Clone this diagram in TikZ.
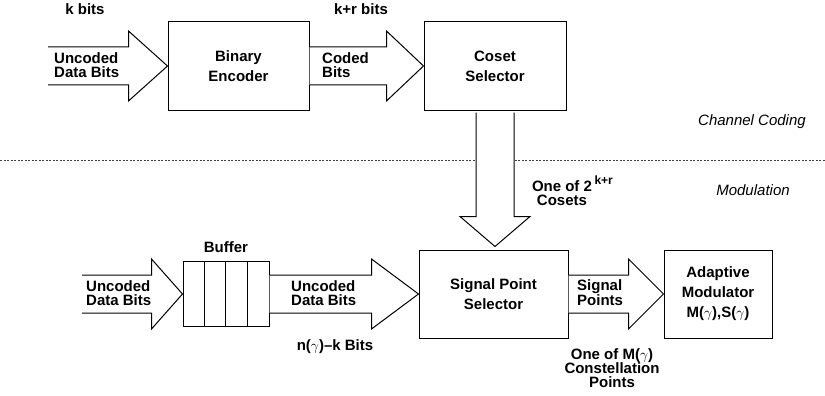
\documentclass[tikz,border=0pt]{standalone}
\usepackage{fontspec}
\setmainfont{Liberation Sans}
\usetikzlibrary{positioning,calc}
\tikzset{
  block/.style={draw,line width=1pt,align=center,inner sep=0pt,
    font=\bfseries\fontsize{15}{20}\selectfont},
  fat/.style={draw,line width=1pt,fill=white},
  arrlabel/.style={align=left,anchor=west,inner sep=0pt,
    font=\bfseries\fontsize{15}{14}\selectfont},
  note/.style={align=center,inner sep=0pt,
    font=\bfseries\fontsize{15}{14}\selectfont},
  layer/.style={inner sep=0pt,font=\itshape\fontsize{15}{15}\selectfont},
  divider/.style={draw=black!75,line width=1pt,dash pattern=on 2pt off 1.5pt}
}
% wide block arrow: from, to, head length
\newcommand{\hfat}[3]{%
  \draw[fat] ($(#1)+(0,-19)$) -- ($(#2)+(-#3,-19)$) -- ($(#2)+(-#3,-35)$) -- (#2)
    -- ($(#2)+(-#3,35)$) -- ($(#2)+(-#3,19)$) -- ($(#1)+(0,19)$);
}
\newcommand{\vfat}[3]{%
  \draw[fat] ($(#1)+(-19,0)$) -- ($(#2)+(-19,-#3)$) -- ($(#2)+(-35,-#3)$) -- (#2)
    -- ($(#2)+(35,-#3)$) -- ($(#2)+(19,-#3)$) -- ($(#1)+(19,0)$);
}

\begin{document}
\begin{tikzpicture}[x=1pt,y=-1pt]
  \useasboundingbox (0,0) rectangle (825,396);
  % channel coding
  \node[block,minimum width=141,minimum height=88] (enc) at (238.5,66) {Binary\\Encoder};
  \node[block,minimum width=142,minimum height=88] (coset) at (495,66) {Coset\\Selector};
  \coordinate (in1) at (48,66);
  \hfat{in1}{enc.west}{39}
  \hfat{enc.east}{coset.west}{37}
  \node[note] (kbits) at (85,9) {k bits};
  \node[note] (krbits) at (361,9) {k+r bits};
  \node[arrlabel] (unc1) at (54,65) {Uncoded\\Data Bits};
  \node[arrlabel] (coded) at (322,65) {Coded\\Bits};

  % separation line
  \coordinate (sepL) at (0,160);
  \coordinate (sepR) at (825,160);
  \draw[divider] (sepL) -- (sepR);
  \node[layer] (cc) at (752,122) {Channel Coding};
  \node[layer] (mod) at (753,190) {Modulation};

  % modulation
  \node[block,minimum width=149,minimum height=88] (sps) at (493.5,294) {Signal Point\\Selector};
  \node[block,minimum width=108,minimum height=88] (amod) at (718,294) {Adaptive\\Modulator\\M($\gamma$),S($\gamma$)};
  \node[draw,line width=1pt,minimum width=86,minimum height=65] (buf) at (226,294) {};
  \foreach \i in {1,2,3}
    \draw[line width=1pt] ($(buf.north west)+(21.5*\i,0)$) -- ($(buf.south west)+(21.5*\i,0)$);
  \node[note] (buflbl) at (226,247) {Buffer};

  \coordinate (cstart) at ($(coset.south)+(0,2)$);
  \coordinate (cend) at ($(coset.south |- sps.north)+(0,-3)$);
  \vfat{cstart}{cend}{30}
  \node[note] (cosets) at (562,191) {One of 2\rlap{\,\raisebox{0.45em}{\fontsize{12}{12}\selectfont k+r}}\\Cosets};

  \coordinate (in3) at (82,294);
  \hfat{in3}{buf.west}{31}
  \hfat{buf.east}{sps.west}{47}
  \hfat{sps.east}{amod.west}{35}
  \node[arrlabel] (unc3) at (86,293) {Uncoded\\Data Bits};
  \node[arrlabel] (unc4) at (291,293) {Uncoded\\Data Bits};
  \node[arrlabel] (sigpts) at (577,293) {Signal\\Points};
  \node[note] (nbits) at (335,347) {n($\gamma$)\textendash k Bits};
  \node[note] (constel) at (612,368) {One of M($\gamma$)\\Constellation\\Points};
\end{tikzpicture}
\end{document}
